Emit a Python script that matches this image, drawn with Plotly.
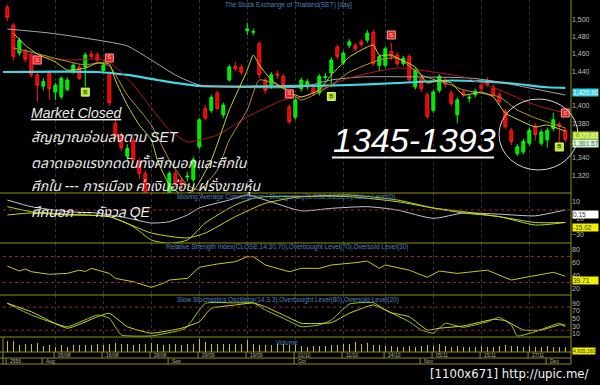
import plotly.graph_objects as go
import pandas as pd

# ---------------- data ----------------
holidays = ["2013-08-12", "2013-10-14", "2013-10-23", "2013-12-05"]
days = [d.strftime("%d/%m") for d in pd.bdate_range("2013-07-24", "2013-12-06")
        if d.strftime("%Y-%m-%d") not in holidays]
date_ticks = ["05/08", "16/08", "28/08", "09/09", "19/09", "01/10", "11/10",
              "24/10", "05/11", "15/11", "27/11"]
month_ticks = [("24/07", "2556"), ("01/08", "Aug"), ("02/09", "Sep"),
               ("01/10", "Oct"), ("01/11", "Nov"), ("02/12", "Dec")]
price_ticks = [1320, 1340, 1380, 1400, 1440, 1460, 1480, 1500]

opens = [1514,1493,1461,1463,1459,1436,1423,1438,1416,1411,
         1419,1440,1445,1445,1460,1459,1441,1436,1380,1367,
         1342,1360,1336,1322,1294,1282,1296,1294,1322,1314,
         1318,1315,1353,1397,1395,1415,1390,1430,1446,1445,
         1487,1485,1472,1430,1424,1437,1434,1399,1387,1420,
         1422,1421,1415,1433,1438,1468,1450,1470,1470,1474,
         1476,1485,1447,1447,1463,1459,1449,1457,1422,1432,
         1413,1395,1418,1430,1415,1390,1416,1409,1413,1424,
         1430,1421,1413,1394,1372,1345,1347,1357,1377,1357,
         1361,1374,1379,1372]
highs = [1517,1496,1479,1466,1462,1439,1432,1441,1427,1434,
         1433,1450,1448,1462,1464,1462,1450,1440,1386,1370,
         1356,1364,1340,1326,1298,1298,1301,1325,1326,1318,
         1324,1341,1386,1401,1413,1418,1404,1448,1451,1448,
         1496,1489,1474,1433,1439,1441,1437,1402,1410,1433,
         1431,1424,1437,1438,1456,1471,1464,1477,1473,1477,
         1488,1488,1460,1469,1473,1462,1458,1460,1444,1436,
         1416,1419,1437,1433,1418,1410,1419,1413,1420,1427,
         1433,1425,1416,1397,1375,1356,1362,1375,1380,1373,
         1375,1392,1382,1375]
lows = [1498,1452,1458,1450,1433,1405,1418,1407,1407,1408,
        1417,1437,1430,1422,1454,1450,1438,1400,1360,1348,
        1338,1334,1316,1290,1274,1276,1283,1292,1307,1303,
        1313,1312,1350,1383,1392,1395,1386,1428,1440,1436,
        1482,1482,1432,1414,1420,1431,1420,1379,1384,1417,
        1419,1412,1412,1430,1422,1454,1447,1467,1463,1468,
        1473,1446,1440,1444,1453,1446,1446,1427,1419,1416,
        1385,1392,1415,1421,1400,1380,1410,1404,1410,1417,
        1422,1410,1401,1373,1355,1342,1344,1354,1360,1354,
        1352,1371,1358,1358]
closes = [1502,1457,1476,1454,1436,1424,1428,1420,1424,1432,
          1430,1447,1432,1459,1457,1453,1447,1404,1365,1352,
          1351,1338,1322,1296,1280,1294,1288,1322,1312,1309,
          1319,1338,1384,1386,1410,1397,1401,1445,1443,1439,
          1489,1486,1436,1418,1436,1435,1424,1382,1407,1430,
          1428,1415,1434,1434,1453,1457,1461,1474,1466,1471,
          1484,1449,1457,1466,1457,1449,1455,1430,1441,1420,
          1388,1416,1434,1425,1403,1407,1413,1410,1417,1420,
          1425,1413,1405,1376,1359,1353,1359,1372,1367,1370,
          1372,1384,1377,1361.57]
volume_m = [11.5,11.5,6.7,8.3,7.7,9.0,5.7,6.7,5.0,6.7,
            5.0,6.7,6.7,6.7,6.7,7.7,6.7,8.3,9.0,7.7,
            7.7,6.7,7.7,8.3,9.0,7.7,6.7,7.7,7.7,6.7,
            8.3,8.3,13.3,10.0,7.7,7.7,7.7,7.7,7.7,8.3,
            11.7,7.7,6.7,6.7,6.7,7.7,7.7,6.7,6.7,6.0,
            5.5,6.0,6.5,6.0,7.0,7.5,8.0,8.5,10.0,8.0,
            9.0,7.5,7.0,6.0,6.5,5.5,5.0,6.0,5.5,6.0,
            7.5,6.0,8.0,6.0,5.5,6.0,5.0,5.5,5.0,6.0,
            5.0,5.5,6.0,7.0,6.5,6.0,5.5,6.0,5.0,5.5,
            6.0,5.0,5.5,4.93516]

# moving averages (trading-day number, value)
fast_day = [1,3,5,8,10,13,15,17,18,20,22,24,25,27,29,31,34,37,40,41,42,44,47,49,52,54,57,60,61,62,64,65,68,70,72,74,76,79,81,83,86,88,90,93]
fast_val = [1484,1470,1460,1450.8,1441.5,1443.8,1449.6,1448.5,1430,1401,1378,1361,1338,1309,1298,1302,1337.7,1395.4,1441.5,1458.8,1447.3,1430,1416.1,1410.4,1418.5,1435.8,1456.5,1468.1,1470.4,1458.8,1458.8,1455.4,1445,1426.5,1430,1426.5,1412.7,1416.1,1410.4,1391.9,1381.5,1375.8,1378.1,1370.83]
mid_day = [1,4,9,13,15,17,20,24,27,30,32,35,37,40,42,46,49,54,57,62,65,69,74,76,82,85,88,90,93]
mid_val = [1466.9,1462.3,1453.1,1447.3,1449.6,1446.2,1412.7,1378.1,1337.7,1308.8,1303.1,1326.2,1360.8,1395.4,1430.0,1421.9,1406.9,1424.2,1439.2,1453.1,1455.4,1435.8,1424.2,1418.5,1410.4,1395.4,1386.2,1381.5,1374.6]
red_day = [1,4,10,15,17,21,24,27,30,32,35,40,46,49,57,65,71,76,82,88,93]
red_val = [1468.1,1458.8,1453.1,1454.2,1450.8,1424.2,1397.7,1372.3,1358.5,1360.8,1366.5,1387.3,1406.9,1410.4,1432.3,1443.8,1439.2,1433.5,1418.5,1401.2,1391.9]
grey_day = [0,7,15,20,24,28,32,40,49,54,59,69,77,82,87,93]
grey_val = [1488.8,1484.2,1476.1,1469.2,1453.1,1435.8,1424.2,1421.3,1421.9,1430.0,1433.5,1433.5,1432.3,1427.7,1420.8,1412.7]
cyan_day = [-1,15,20,25,32,40,49,57,65,74,79,85,90,93]
cyan_val = [1439.2,1439.2,1435.8,1430.0,1423.1,1422.5,1423.1,1424.2,1426.5,1429.4,1428.3,1425.4,1421.6,1420.9]

# buy / sell signals
buy_day = [13, 54, 92]
buy_val = [1416, 1411, 1352.7]
sell_day = [5, 17, 47, 64, 93]
sell_val = [1453, 1455.4, 1414, 1481.9, 1391.9]

# MACD panel
macd_w_day = [0,4,10,15,20,24,27,30,32,37,40,43,49,54,60,65,71,76,82,88,93]
macd_w = [12,4,-2,-3.6,-9.6,-15.6,-14,-6,2.4,12,18,12,-1,2,4,0,-10,-3.6,-5,-7,0.15]
macd_g_day = [0,4,10,17,21,24,27,30,33,38,41,43,49,57,65,71,76,82,88,93]
macd_g = [4,-2,-5,-8,-20,-36,-40,-36,-15.6,6,14,16,16,18,12,2.4,-3.6,-8,-18,-15]
macd_y_day = [0,4,10,17,24,30,33,38,43,49,57,65,71,76,82,88,93]
macd_y = [-6,-3.6,-6,-8,-27.6,-33.6,-27.6,-8,8,16,16,10,2.4,-2,-8,-15,-15.02]

# RSI panel
rsi_day = [0,2,3,4,7,10,12,13,14,17,18,21,24,26,27,30,32,35,38,40,41,43,47,49,52,54,58,60,62,63,67,70,72,75,80,84,87,91,93]
rsi_val = [55.4,47.7,50.8,46.6,42.6,44.1,49,47,51.8,44,36.4,31.2,22.6,28.7,33.8,36.4,53.4,58.5,62,69.7,69.7,57,46.6,51.8,51.8,57,60.5,63,51.8,57,49,38,47.7,44,49,33.8,39,45.7,39.71]

# Slow stochastics
stk_day = [0,4,10,15,17,19,24,29,30,33,38,41,43,46,49,52,54,57,61,63,67,69,71,73,76,80,82,84,85,88,92,93]
stk_val = [90,59.5,29,59.5,51,7.4,5,20.4,29,90,91,91,72.5,51,29,33.5,46.5,88,92,72.5,42,20.4,12,38,27.5,42,53.5,33.5,5,16,38,29]
std_day = [0,4,10,15,17,20,24,29,32,34,38,41,43,46,49,54,57,61,64,67,70,72,76,81,83,86,89,92,93]
std_val = [90,68,25,55,64,29,12,25,42,77,85.6,91,81,59.5,38,39.5,64,85.6,65.5,55,20.4,25,31,48,45,20.4,20.4,33.5,33.5]

macd_level = [0]
rsi_levels = [70, 30]
sto_levels = [80, 20]

# ---------------- layout helpers ----------------
PH = 352.0      # plot area height in px
PW = 568.0
def py(p):
    return 1 - p / PH
def pxp(p):
    return (p - 3) / PW
def dom(top, bot):
    return [py(bot), py(top)]

OLIVE = "#8f8f12"
TICKF = dict(family="Liberation Sans, Arial", size=7, color="#bdbdbd")
TITLEC = "#4f84c4"
x = list(range(len(days)))

fig = go.Figure()

# main panel
fig.add_trace(go.Scatter(x=cyan_day, y=cyan_val, mode="lines", line=dict(color="#3fd8e6", width=2.2, shape="spline", smoothing=0.6), yaxis="y"))
fig.add_trace(go.Scatter(x=grey_day, y=grey_val, mode="lines", line=dict(color="#a9a9a9", width=1, shape="spline", smoothing=0.6), yaxis="y"))
fig.add_trace(go.Scatter(x=red_day, y=red_val, mode="lines", line=dict(color="#b31a1a", width=1, shape="spline", smoothing=0.6), yaxis="y"))
fig.add_trace(go.Scatter(x=mid_day, y=mid_val, mode="lines", line=dict(color="#b8942a", width=1, shape="spline", smoothing=0.5), yaxis="y"))
fig.add_trace(go.Scatter(x=fast_day, y=fast_val, mode="lines", line=dict(color="#c6d82a", width=1, shape="spline", smoothing=0.5), yaxis="y"))
fig.add_trace(go.Candlestick(
    x=x, open=opens, high=highs, low=lows, close=closes, yaxis="y",
    increasing=dict(line=dict(color="#00ff00", width=1), fillcolor="#00e600"),
    decreasing=dict(line=dict(color="#ff1a1a", width=1), fillcolor="#e80000"),
    whiskerwidth=0))
fig.add_trace(go.Scatter(x=buy_day, y=buy_val, mode="markers+text", text=["B"] * len(buy_day),
                         textposition="middle center", textfont=dict(size=6, color="#1d3a00", family="Liberation Sans"),
                         marker=dict(symbol="square", size=8, color="#b6e024", line=dict(color="#e0ff80", width=1)),
                         yaxis="y", cliponaxis=False))
fig.add_trace(go.Scatter(x=sell_day, y=sell_val, mode="markers+text", text=["S"] * len(sell_day),
                         textposition="middle center", textfont=dict(size=6, color="#ffd4d4", family="Liberation Sans"),
                         marker=dict(symbol="square", size=8, color="#e82020", line=dict(color="#ff9a9a", width=1)),
                         yaxis="y", cliponaxis=False))

# MACD
fig.add_trace(go.Scatter(x=macd_w_day, y=macd_w, mode="lines", line=dict(color="#c4c4dc", width=1, shape="spline", smoothing=0.6), yaxis="y2"))
fig.add_trace(go.Scatter(x=macd_g_day, y=macd_g, mode="lines", line=dict(color="#96e02a", width=1, shape="spline", smoothing=0.6), yaxis="y2"))
fig.add_trace(go.Scatter(x=macd_y_day, y=macd_y, mode="lines", line=dict(color="#d2d21e", width=1, shape="spline", smoothing=0.6), yaxis="y2"))
# RSI
fig.add_trace(go.Scatter(x=rsi_day, y=rsi_val, mode="lines", line=dict(color="#c8c820", width=1), yaxis="y3"))
# Stochastics
fig.add_trace(go.Scatter(x=stk_day, y=stk_val, mode="lines", line=dict(color="#8ad21e", width=1, shape="spline", smoothing=0.4), yaxis="y4"))
fig.add_trace(go.Scatter(x=std_day, y=std_val, mode="lines", line=dict(color="#d4d42a", width=1, shape="spline", smoothing=0.4), yaxis="y4"))
# Volume
fig.add_trace(go.Bar(x=x, y=volume_m, width=0.22, marker=dict(color="#c8c800", line=dict(width=0)), yaxis="y5"))

tick_idx = [days.index(d) for d in date_ticks]
month_idx = [days.index(d) for d, _ in month_ticks]

def yax(top, bot, rng, **kw):
    d = dict(domain=dom(top, bot), range=rng, side="right", anchor="x", showgrid=False,
             zeroline=False, showline=False, ticks="", tickfont=TICKF, fixedrange=True, automargin=False)
    d.update(kw)
    return d

fig.update_layout(
    width=600, height=385, margin=dict(l=3, r=29, t=0, b=33, autoexpand=False),
    paper_bgcolor="black", plot_bgcolor="black", showlegend=False, hovermode=False,
    bargap=0,
    xaxis=dict(range=[-0.72, 93.95], showticklabels=False, tickvals=tick_idx, showgrid=True,
               gridcolor="#333333", griddash="dot", gridwidth=1, zeroline=False, showline=False,
               rangeslider=dict(visible=False), fixedrange=True, ticks="", automargin=False),
    yaxis=yax(0, 193, [1299.6, 1522.3], tickvals=price_ticks, tickformat=","),
    yaxis2=yax(193, 243, [-39.6, 20.4], tickvals=[10, -10, -30]),
    yaxis3=yax(243, 295, [10.8, 90.8], tickvals=[80, 60, 40, 20]),
    yaxis4=yax(295, 337, [2.2, 111.6], tickvals=[90, 70, 50, 30, 10]),
    yaxis5=yax(337, 352, [0, 15], showticklabels=False),
)

shapes = []
# panel separators
for p in [193, 243, 295, 337, 352, 358, 364]:
    shapes.append(dict(type="line", xref="paper", yref="paper", x0=pxp(0), x1=1, y0=py(p), y1=py(p),
                       line=dict(color=OLIVE, width=1)))
shapes.append(dict(type="line", xref="paper", yref="paper", x0=1, x1=1, y0=py(364), y1=1,
                   line=dict(color=OLIVE, width=1)))
shapes.append(dict(type="line", xref="paper", yref="paper", x0=0, x1=0, y0=py(364), y1=py(337),
                   line=dict(color=OLIVE, width=1)))
for i in tick_idx:
    shapes.append(dict(type="line", xref="x", yref="paper", x0=i - 0.2, x1=i - 0.2, y0=py(358), y1=py(352),
                       line=dict(color=OLIVE, width=1)))
for i in month_idx:
    shapes.append(dict(type="line", xref="x", yref="paper", x0=i - 0.2, x1=i - 0.2, y0=py(364), y1=py(358),
                       line=dict(color=OLIVE, width=1)))
# level lines
for lv in macd_level:
    shapes.append(dict(type="line", xref="paper", yref="y2", x0=0, x1=1, y0=lv, y1=lv, line=dict(color="#9a2a2a", width=1, dash="dot")))
for lv in rsi_levels:
    shapes.append(dict(type="line", xref="paper", yref="y3", x0=0, x1=1, y0=lv, y1=lv, line=dict(color="#9a2a2a", width=1, dash="dot")))
for lv in sto_levels:
    shapes.append(dict(type="line", xref="paper", yref="y4", x0=0, x1=1, y0=lv, y1=lv, line=dict(color="#9a2a2a", width=1, dash="dot")))
# ellipse highlight & underline
shapes.append(dict(type="circle", xref="paper", yref="paper", x0=pxp(499), x1=pxp(578), y0=py(170), y1=py(99),
                   line=dict(color="#d8d8d8", width=1)))
shapes.append(dict(type="line", xref="paper", yref="paper", x0=pxp(332), x1=pxp(494), y0=py(157.5), y1=py(157.5),
                   line=dict(color="#f0f0f0", width=2)))
fig.update_layout(shapes=shapes)

ann = []
def t(txt, xpx, ypx, size=6.5, color=TITLEC, xanchor="center", family="Liberation Sans, Arial", **kw):
    a = dict(text=txt, xref="paper", yref="paper", x=pxp(xpx), y=py(ypx), xanchor=xanchor, yanchor="middle",
             showarrow=False, font=dict(size=size, color=color, family=family))
    a.update(kw)
    ann.append(a)

t("The Stock Exchange of Thailand(SET) [day]", 288, 5)
t("Moving Average Convergence / Divergence(CLOSE,26,12,9),Value Level(0)", 286, 197)
t("Relative Strength Index(CLOSE,14,30,70),Overbought Level(70),Oversold Level(30)", 287, 247)
t("Slow Stochastics Oscillator(14,3,3),Overbought Level(80),Oversold Level(20)", 288, 299.5)
t("Volume", 287, 342)

THAI = "Liberation Sans, Noto Sans Thai, Loma, Garuda, Tlwg Typo, sans-serif"
t("<i><span style='text-decoration:underline'>Market Closed</span></i>", 29, 113, size=14, color="#ececec", xanchor="left", family=THAI)
t("<i>สัญญาณอ่อนลงตาม SET</i>", 29, 137, size=14, color="#ececec", xanchor="left", family=THAI)
t("<i>ตลาดเจอแรงกดดันทั้งศึกนอกและศึกใน</i>", 29, 162, size=14, color="#ececec", xanchor="left", family=THAI)
t("<i>ศึกใน --- การเมือง ค่าเงินอ่อน ฝรั่งขายหุ้น</i>", 29, 186, size=14, color="#ececec", xanchor="left", family=THAI)
t("<i>ศึกนอก --- กังวล QE</i>", 29, 212, size=14, color="#ececec", xanchor="left", family=THAI)
t("<i>1345-1393</i>", 414, 140, size=34, color="#ffffff", family="Liberation Sans, Arial")
t("[1100x671] http://upic.me/", 590, 373, size=13, color="#f4f4f4", xanchor="right",
  family="Liberation Sans Narrow, DejaVu Sans Condensed, sans-serif")

# date labels
for d in date_ticks:
    ann.append(dict(text=d, xref="x", yref="paper", x=days.index(d), y=py(355), xanchor="left", yanchor="middle",
                    xshift=1, showarrow=False, font=dict(size=5, color="#b4b4b4", family="Liberation Sans")))
for d, lab in month_ticks:
    ann.append(dict(text=lab, xref="x", yref="paper", x=days.index(d), y=py(361), xanchor="left", yanchor="middle",
                    xshift=1, showarrow=False, font=dict(size=5, color="#b4b4b4", family="Liberation Sans")))

# last-value boxes
def box(val, txt, yref, bg, fg, size=6.5, width=25):
    ann.append(dict(text=txt, xref="paper", yref=yref, x=1, y=val, xanchor="left", yanchor="top", xshift=1,
                    showarrow=False, bgcolor=bg, borderpad=0, width=width, align="left",
                    font=dict(size=size, color=fg, family="Liberation Sans")))

box(cyan_val[-1], f"{cyan_val[-1]:,.2f}", "y", "#34cfe0", "#ffffff")
box(fast_val[-1], f"{fast_val[-1]:,.2f}", "y", "#a8d81c", "#ffffff")
box(closes[-1], f"{closes[-1]:,.2f}", "y", "#d6f6d6", "#5a6a5a")
box(macd_w[-1], f"{macd_w[-1]:.2f}", "y2", "#ffffff", "#333333")
box(macd_y[-1], f"{macd_y[-1]:.2f}", "y2", "#f0f000", "#333333")
box(rsi_val[-1], f"{rsi_val[-1]:.2f}", "y3", "#f0f000", "#333333")
box(volume_m[-1], f"{volume_m[-1] * 1e6:,.0f}", "y5", "#f0f000", "#333333", size=5, width=22)

fig.update_layout(annotations=ann)
fig.write_html("out.html", config={"displayModeBar": False, "staticPlot": True})

# remove default page margin so the figure sits at the window's top-left corner
with open("out.html", encoding="utf-8") as f:
    html = f.read()
html = html.replace("<head>", "<head><style>html,body{margin:0;padding:0;background:#000;}</style>", 1)
with open("out.html", "w", encoding="utf-8") as f:
    f.write(html)
